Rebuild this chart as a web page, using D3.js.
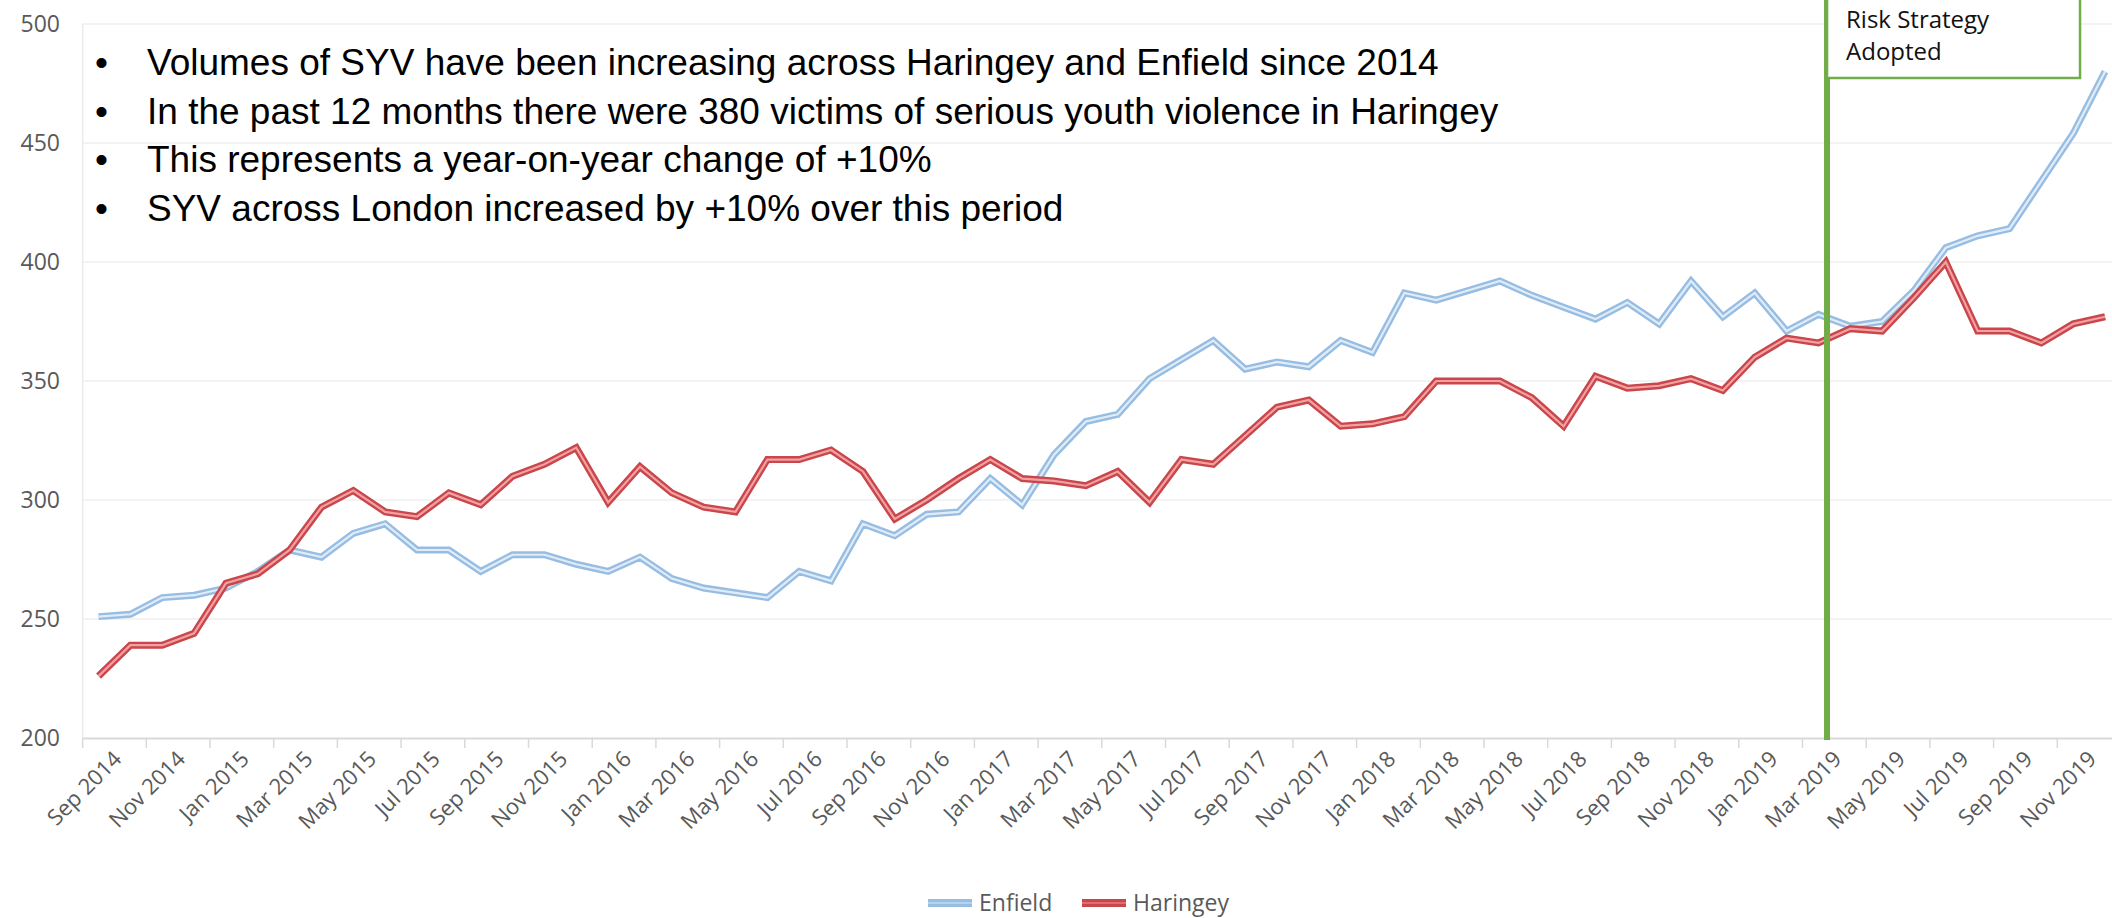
<!DOCTYPE html>
<html>
<head>
<meta charset="utf-8">
<script src="https://cdn.jsdelivr.net/npm/d3@7"></script>
<style>
  body { margin: 0; background: #fff; }
  svg { display: block; }
</style>
</head>
<body>
<div id="chart"></div>
<script>
// monthly series, Sep 2014 .. Dec 2019
const months = [
  "Sep 2014","Oct 2014","Nov 2014","Dec 2014","Jan 2015","Feb 2015","Mar 2015","Apr 2015","May 2015","Jun 2015","Jul 2015","Aug 2015",
  "Sep 2015","Oct 2015","Nov 2015","Dec 2015","Jan 2016","Feb 2016","Mar 2016","Apr 2016","May 2016","Jun 2016","Jul 2016","Aug 2016",
  "Sep 2016","Oct 2016","Nov 2016","Dec 2016","Jan 2017","Feb 2017","Mar 2017","Apr 2017","May 2017","Jun 2017","Jul 2017","Aug 2017",
  "Sep 2017","Oct 2017","Nov 2017","Dec 2017","Jan 2018","Feb 2018","Mar 2018","Apr 2018","May 2018","Jun 2018","Jul 2018","Aug 2018",
  "Sep 2018","Oct 2018","Nov 2018","Dec 2018","Jan 2019","Feb 2019","Mar 2019","Apr 2019","May 2019","Jun 2019","Jul 2019","Aug 2019",
  "Sep 2019","Oct 2019","Nov 2019","Dec 2019"
];

const enfield = [
  251, 252, 259, 260, 263, 270, 279, 276, 286, 290, 279, 279,
  270, 277, 277, 273, 270, 276, 267, 263, 261, 259, 270, 266,
  290, 285, 294, 295, 309, 298, 319, 333, 336, 351, 359, 367,
  355, 358, 356, 367, 362, 387, 384, 388, 392, 386, 381, 376,
  383, 374, 392, 377, 387, 371, 378, 373, 375, 388, 406, 411,
  414, 434, 454, 480
];

const haringey = [
  226, 239, 239, 244, 265, 269, 279, 297, 304, 295, 293, 303,
  298, 310, 315, 322, 299, 314, 303, 297, 295, 317, 317, 321,
  312, 292, 300, 309, 317, 309, 308, 306, 312, 299, 317, 315,
  327, 339, 342, 331, 332, 335, 350, 350, 350, 343, 331, 352,
  347, 348, 351, 346, 360, 368, 366, 372, 371, 385, 400, 371,
  371, 366, 374, 377
];

const yTicks = [200, 250, 300, 350, 400, 450, 500];

const bullets = [
  "Volumes of SYV have been increasing across Haringey and Enfield since 2014",
  "In the past 12 months there were 380 victims of serious youth violence in Haringey",
  "This represents a year-on-year change of +10%",
  "SYV across London increased by +10% over this period"
];

const strategyMonth = "Mar 2019";
const strategyLabel = ["Risk Strategy", "Adopted"];

const seriesNames = ["Enfield", "Haringey"];

// ---- drawing ----
const W = 2112, H = 918;
const plotLeft = 82.6, step = 31.85, plotTop = 24, plotBottom = 738;

const svg = d3.select("#chart").append("svg")
  .attr("width", W).attr("height", H)
  .attr("viewBox", `0 0 ${W} ${H}`);

const x = d3.scaleBand()
  .domain(months)
  .range([plotLeft, plotLeft + months.length * step])
  .padding(0);

const y = d3.scaleLinear()
  .domain([200, 500])
  .range([plotBottom, plotTop]);

const cx = d => x(d) + x.bandwidth() / 2;

// gridlines
svg.append("g")
  .selectAll("line")
  .data(yTicks.slice(1))
  .enter().append("line")
    .attr("x1", plotLeft).attr("x2", W)
    .attr("y1", d => y(d)).attr("y2", d => y(d))
    .attr("stroke", "#efefef")
    .attr("stroke-width", 1.5);

// left edge of plot
svg.append("line")
  .attr("x1", plotLeft).attr("x2", plotLeft)
  .attr("y1", y(500)).attr("y2", plotBottom)
  .attr("stroke", "#eaeaea").attr("stroke-width", 1.5);

// y labels
svg.append("g")
  .selectAll("text")
  .data(yTicks)
  .enter().append("text")
    .attr("x", 60)
    .attr("y", d => y(d))
    .attr("dy", "0.35em")
    .attr("text-anchor", "end")
    .style("font", "23px 'Open Sans', sans-serif")
    .style("fill", "#595959")
    .text(d => d);

// x axis, labels every second month
const xAxis = d3.axisBottom(x)
  .tickValues(months.filter((d, i) => i % 2 === 0))
  .tickSize(0)
  .tickPadding(0);

const gx = svg.append("g")
  .attr("transform", `translate(0,${plotBottom})`)
  .call(xAxis);

gx.select(".domain").attr("stroke", "#d9d9d9").attr("stroke-width", 2);

gx.selectAll(".tick text")
  .attr("text-anchor", "end")
  .attr("transform", "translate(19,17) rotate(-45)")
  .attr("y", 0).attr("dy", "0.35em")
  .style("font", "22px 'Open Sans', sans-serif")
  .style("fill", "#595959");

// tick marks on band edges
svg.append("g")
  .selectAll("line")
  .data(months.filter((d, i) => i % 2 === 0))
  .enter().append("line")
    .attr("x1", d => x(d)).attr("x2", d => x(d))
    .attr("y1", plotBottom).attr("y2", plotBottom + 10)
    .attr("stroke", "#d9d9d9").attr("stroke-width", 1.5);

// lines: double (compound) stroke
const line = d3.line()
  .x((d, i) => cx(months[i]))
  .y(d => y(d));

const styles = {
  Enfield:  { outer: "#97bde3", inner: "#e0ecf8" },
  Haringey: { outer: "#c9464b", inner: "#f2a0a2" }
};

[[enfield, "Enfield"], [haringey, "Haringey"]].forEach(([vals, name]) => {
  svg.append("path")
    .datum(vals)
    .attr("d", line)
    .attr("fill", "none")
    .attr("stroke", styles[name].outer)
    .attr("stroke-width", 7)
    .attr("stroke-linejoin", "miter");
  svg.append("path")
    .datum(vals)
    .attr("d", line)
    .attr("fill", "none")
    .attr("stroke", styles[name].inner)
    .attr("stroke-width", 2.2)
    .attr("stroke-linejoin", "miter");
});

// strategy marker
const sx = x(strategyMonth) + x.bandwidth() * 0.77;

svg.append("line")
  .attr("x1", sx).attr("x2", sx)
  .attr("y1", 0).attr("y2", plotBottom + 2)
  .attr("stroke", "#70ad47").attr("stroke-width", 6);

svg.append("rect")
  .attr("x", sx).attr("y", -10)
  .attr("width", 253).attr("height", 88)
  .attr("fill", "#fff")
  .attr("stroke", "#70ad47").attr("stroke-width", 2.5);

svg.append("g")
  .selectAll("text")
  .data(strategyLabel)
  .enter().append("text")
    .attr("x", sx + 19)
    .attr("y", (d, i) => 28 + i * 32)
    .style("font", "24px 'Open Sans', sans-serif")
    .style("fill", "#111")
    .text(d => d);

// bullet text
const bl = svg.append("g");
bullets.forEach((t, i) => {
  bl.append("text")
    .attr("x", 95).attr("y", 75 + i * 48.5)
    .style("font", "37px 'Liberation Sans', Arial, sans-serif")
    .text("\u2022");
  bl.append("text")
    .attr("x", 147).attr("y", 75 + i * 48.5)
    .style("font", "37px 'Liberation Sans', Arial, sans-serif")
    .style("fill", "#000")
    .text(t);
});

// legend
const legend = svg.append("g").attr("transform", "translate(928,903)");
const lg = legend.selectAll("g")
  .data(seriesNames)
  .enter().append("g")
    .attr("transform", (d, i) => `translate(${i * 154},0)`);

lg.append("line")
  .attr("x1", 0).attr("x2", 44)
  .attr("y1", 0).attr("y2", 0)
  .attr("stroke", d => styles[d].outer)
  .attr("stroke-width", 8);
lg.append("line")
  .attr("x1", 0).attr("x2", 44)
  .attr("y1", 0).attr("y2", 0)
  .attr("stroke", d => styles[d].inner)
  .attr("stroke-width", 1.5)
  .attr("opacity", 0.6);
lg.append("text")
  .attr("x", 51).attr("y", 0)
  .attr("dy", "0.35em")
  .style("font", "23px 'Open Sans', sans-serif")
  .style("fill", "#595959")
  .text(d => d);
</script>
</body>
</html>
